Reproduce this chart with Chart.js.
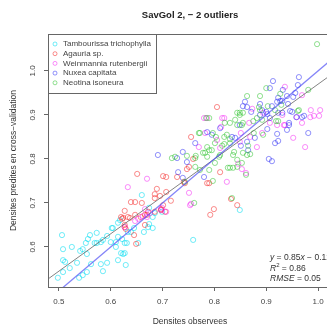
<!DOCTYPE html>
<html><head><meta charset="utf-8">
<script src="https://cdn.jsdelivr.net/npm/chart.js@4.4.1/dist/chart.umd.min.js"></script>
<style>html,body{margin:0;padding:0;background:#fff;overflow:hidden;width:327px;height:327px}
#wrap{width:350px;height:327px}</style></head>
<body><div id="wrap"><canvas id="c" width="350" height="327"></canvas></div>
<script>
const chartTitle = "SavGol 2, \u2212 2 outliers";
const xTitle = "Densites observees";
const yTitle = "Densites predites en cross\u2212validation";
const speciesNames = ["Tambourissa trichophylla","Agauria sp.","Weinmannia rutenbergii","Nuxea capitata","Neotina isoneura"];
const speciesColors = ["rgba(0,220,240,0.55)","rgba(245,30,30,0.5)","rgba(245,20,245,0.48)","rgba(30,30,245,0.48)","rgba(30,190,30,0.48)"];
const xTicks = [0.5,0.6,0.7,0.8,0.9,1.0];
const yTicks = [0.6,0.7,0.8,0.9,1.0];

const tambourissa = [[0.508,0.595],[0.508,0.570],[0.512,0.566],[0.498,0.530],[0.508,0.543],[0.521,0.552],[0.525,0.600],[0.535,0.564],[0.541,0.591],[0.546,0.595],[0.552,0.609],[0.556,0.618],[0.560,0.627],[0.554,0.584],[0.539,0.530],[0.546,0.536],[0.554,0.543],[0.562,0.561],[0.569,0.609],[0.573,0.632],[0.573,0.609],[0.581,0.611],[0.585,0.616],[0.581,0.561],[0.585,0.545],[0.593,0.625],[0.593,0.564],[0.600,0.611],[0.602,0.643],[0.610,0.611],[0.614,0.623],[0.614,0.655],[0.610,0.600],[0.614,0.570],[0.620,0.586],[0.624,0.584],[0.627,0.586],[0.629,0.559],[0.631,0.609],[0.627,0.609],[0.622,0.618],[0.633,0.634],[0.639,0.634],[0.645,0.643],[0.653,0.609],[0.664,0.634],[0.672,0.645],[0.681,0.643],[0.681,0.668],[0.660,0.718],[0.674,0.689],[0.618,0.661],[0.685,0.677],[0.604,0.643],[0.759,0.616],[0.849,0.684],[0.506,0.627],[0.674,0.652],[0.699,0.680]];
const agauria = [[0.651,0.766],[0.701,0.761],[0.707,0.759],[0.689,0.732],[0.685,0.720],[0.695,0.716],[0.639,0.702],[0.647,0.702],[0.660,0.700],[0.685,0.711],[0.707,0.725],[0.716,0.705],[0.701,0.695],[0.627,0.682],[0.637,0.666],[0.624,0.666],[0.670,0.673],[0.697,0.686],[0.705,0.680],[0.743,0.745],[0.620,0.668],[0.627,0.650],[0.627,0.645],[0.645,0.627],[0.649,0.607],[0.633,0.668],[0.647,0.673],[0.658,0.668],[0.666,0.650],[0.666,0.673],[0.672,0.680],[0.685,0.680],[0.697,0.684],[0.792,0.673],[0.799,0.686],[0.844,0.695],[0.832,0.709],[0.755,0.850],[0.759,0.800],[0.747,0.777],[0.751,0.782],[0.728,0.759],[0.741,0.748],[0.786,0.745],[0.790,0.745],[0.811,0.770],[0.805,0.918],[0.622,0.664],[0.629,0.641]];
const weinmannia = [[0.670,0.755],[0.633,0.736],[0.697,0.684],[0.707,0.680],[0.666,0.686],[0.627,0.645],[0.670,0.668],[0.662,0.670],[0.699,0.689],[0.753,0.695],[0.647,0.659],[0.653,0.664],[0.676,0.677],[0.751,0.723],[0.755,0.698],[0.780,0.893],[0.782,0.859],[0.770,0.827],[0.824,0.748],[0.861,0.768],[0.853,0.777],[0.846,0.789],[0.882,0.827],[0.952,0.848],[0.975,0.827],[0.936,0.877],[0.969,0.882],[0.986,0.911],[1.002,0.898],[0.869,0.850],[0.815,0.893],[0.805,0.843],[0.811,0.825],[0.851,0.859],[0.892,0.859],[0.907,0.882],[0.894,0.905],[0.849,0.839],[0.786,0.893],[0.819,0.893],[0.813,0.873],[0.867,0.882],[0.921,0.877],[0.934,0.877],[0.985,0.895],[0.992,0.898],[0.936,0.964],[1.004,0.911],[0.969,0.945],[0.873,0.914],[0.931,0.900],[0.959,0.895]];
const nuxea = [[0.913,0.977],[0.963,0.986],[0.907,0.961],[0.961,0.968],[0.923,0.939],[0.931,0.932],[0.940,0.943],[0.956,0.950],[0.952,0.941],[0.932,0.957],[0.859,0.930],[0.855,0.920],[0.863,0.918],[0.892,0.911],[0.911,0.920],[0.900,0.907],[0.946,0.909],[0.921,0.930],[0.871,0.907],[0.888,0.900],[0.902,0.902],[0.907,0.893],[0.923,0.905],[0.931,0.905],[0.950,0.907],[0.958,0.895],[0.944,0.877],[0.940,0.866],[0.921,0.857],[0.923,0.841],[0.902,0.868],[0.878,0.848],[0.851,0.830],[0.834,0.850],[0.811,0.870],[0.795,0.855],[0.786,0.861],[0.763,0.836],[0.739,0.816],[0.747,0.793],[0.728,0.802],[0.691,0.809],[0.730,0.770],[0.905,0.800],[0.911,0.795],[0.981,0.859],[0.969,0.895],[0.849,0.877],[0.863,0.839],[0.865,0.820],[0.888,0.925],[0.927,0.932],[0.942,0.925],[0.973,0.898],[0.944,0.882],[0.917,0.836],[0.840,0.848],[0.780,0.759],[0.739,0.757]];
const neotina = [[0.998,1.061],[0.863,0.943],[0.888,0.943],[0.903,0.920],[0.900,0.961],[0.981,0.957],[0.849,0.905],[0.886,0.918],[0.961,0.909],[0.927,0.948],[0.929,0.923],[0.770,0.859],[0.790,0.893],[0.819,0.850],[0.824,0.855],[0.840,0.889],[0.844,0.877],[0.853,0.877],[0.849,0.900],[0.855,0.905],[0.882,0.893],[0.876,0.859],[0.894,0.855],[0.892,0.889],[0.919,0.886],[0.786,0.827],[0.790,0.820],[0.801,0.836],[0.815,0.830],[0.819,0.834],[0.830,0.836],[0.838,0.816],[0.836,0.809],[0.855,0.814],[0.853,0.791],[0.861,0.764],[0.826,0.780],[0.844,0.782],[0.801,0.791],[0.763,0.782],[0.724,0.805],[0.718,0.802],[0.763,0.802],[0.797,0.750],[0.834,0.711],[0.786,0.805],[0.811,0.809],[0.778,0.814],[0.795,0.820],[0.875,0.886],[0.820,0.882],[0.830,0.882],[0.784,0.893],[0.772,0.859],[0.797,0.859],[0.803,0.850],[0.830,0.845],[0.844,0.798],[0.863,0.809],[0.869,0.811],[0.865,0.830],[0.782,0.814],[0.809,0.805],[0.830,0.780],[0.836,0.780],[0.790,0.775],[0.772,0.775],[0.764,0.807],[0.747,0.807],[0.743,0.748],[0.761,0.700],[0.917,0.911],[0.923,0.886],[0.963,0.911],[0.844,0.905],[0.888,0.911],[0.855,0.882]];

// fitted regression line and 1:1 line (end points)
const fitLine = [[0.40,0.46],[1.10,1.055]];
const oneToOneLine = [[0.40,0.40],[1.10,1.10]];
const statsText = [
  [["y","italic"],[" = 0.85","normal"],["x","italic"],[" \u2212 0.12","normal"]],
  [["R","italic"],["2","sup"],[" = 0.86","normal"]],
  [["RMSE","italic"],[" = 0.05","normal"]]
];

const FONT = "'Liberation Sans', Arial, sans-serif";
const seriesData = [tambourissa, agauria, weinmannia, nuxea, neotina];
const toXY = a => a.map(p => ({x:p[0], y:p[1]}));

const datasets = seriesData.map((arr,i) => ({
  type:'scatter', label: speciesNames[i], data: toXY(arr),
  borderColor: speciesColors[i], backgroundColor:'rgba(0,0,0,0)',
  pointRadius:2.6, pointHoverRadius:2.6, pointBorderWidth:1, order: 2 + (4 - i)
}));
datasets.push({type:'line', label:'fit', data: toXY(fitLine), borderColor:'rgba(100,100,100,0.8)', borderWidth:1, pointRadius:0, fill:false, order:1});
datasets.push({type:'line', label:'1:1', data: toXY(oneToOneLine), borderColor:'rgba(80,80,245,0.7)', borderWidth:1.3, pointRadius:0, fill:false, order:0});

const decor = {
  id:'decor',
  afterDraw(chart){
    const ctx = chart.ctx, a = chart.chartArea, ys = chart.scales.y;
    ctx.save();
    ctx.strokeStyle = '#666'; ctx.lineWidth = 1;
    ctx.strokeRect(Math.round(a.left)+0.5, Math.round(a.top)+0.5, Math.round(a.right-a.left), Math.round(a.bottom-a.top));
    ctx.fillStyle = '#444'; ctx.font = "8px " + FONT; ctx.textAlign='center'; ctx.textBaseline='middle';
    yTicks.forEach(v => {
      const py = ys.getPixelForValue(v);
      ctx.save(); ctx.translate(33, py); ctx.rotate(-Math.PI/2); ctx.fillText(v.toFixed(1), 0, 0); ctx.restore();
    });
    ctx.fillStyle = '#222'; ctx.font = "bold 9.5px " + FONT;
    ctx.fillText(chartTitle, 190, 15);
    ctx.fillStyle = '#333'; ctx.font = "8.5px " + FONT;
    ctx.fillText(xTitle, 190, 322);
    ctx.save(); ctx.translate(14, (a.top + a.bottom)/2); ctx.rotate(-Math.PI/2); ctx.fillText(yTitle, 0, 0); ctx.restore();
    const lx = Math.round(a.left)+0.5, ly = Math.round(a.top)+0.5;
    ctx.fillStyle = '#fff'; ctx.fillRect(lx, ly, 108, 59);
    ctx.strokeStyle = '#666'; ctx.strokeRect(lx, ly, 108, 59);
    ctx.font = "8px " + FONT; ctx.textAlign='left';
    chart.data.datasets.slice(0,5).forEach((ds,i) => {
      const yy = a.top + 10 + i*9.7;
      ctx.beginPath(); ctx.arc(a.left+7, yy, 2, 0, Math.PI*2);
      ctx.strokeStyle = ds.borderColor; ctx.lineWidth = 1; ctx.stroke();
      ctx.fillStyle = '#444'; ctx.fillText(ds.label, a.left+15, yy);
    });
    ctx.fillStyle = '#333';
    statsText.forEach((line, li) => {
      let x = 270; const y = 258 + li*10.5;
      line.forEach(([t, st]) => {
        if (st === 'sup') { ctx.font = "6px " + FONT; ctx.fillText(t, x, y-3); }
        else { ctx.font = (st==='italic' ? 'italic ' : '') + "8.5px " + FONT; ctx.fillText(t, x, y); }
        x += ctx.measureText(t).width;
      });
    });
    ctx.restore();
  }
};

new Chart(document.getElementById('c'), {
  data: { datasets },
  options: {
    responsive:false, animation:false, events:[],
    layout:{ padding:{ top:34, right:6, left:0, bottom:0 } },
    plugins:{ legend:{display:false}, title:{display:false}, tooltip:{enabled:false} },
    scales:{
      x:{ type:'linear', min:0.479, max:1.05,
        afterBuildTicks: s => { s.ticks = xTicks.map(v => ({value:v})); },
        afterFit: s => { s.height = 40; },
        ticks:{ font:{size:8, family:FONT}, color:'#444', padding:6, maxRotation:0, autoSkip:false, callback: v => Number(v).toFixed(1) },
        grid:{ drawOnChartArea:false, drawTicks:true, tickLength:4, color:'#666' },
        border:{ display:true, color:'#666' } },
      y:{ type:'linear', min:0.509, max:1.084,
        afterBuildTicks: s => { s.ticks = yTicks.map(v => ({value:v})); },
        afterFit: s => { s.width = 48; },
        ticks:{ display:false },
        grid:{ drawOnChartArea:false, drawTicks:true, tickLength:4, color:'#666' },
        border:{ display:true, color:'#666' } }
    }
  },
  plugins:[decor]
});
</script></body></html>
